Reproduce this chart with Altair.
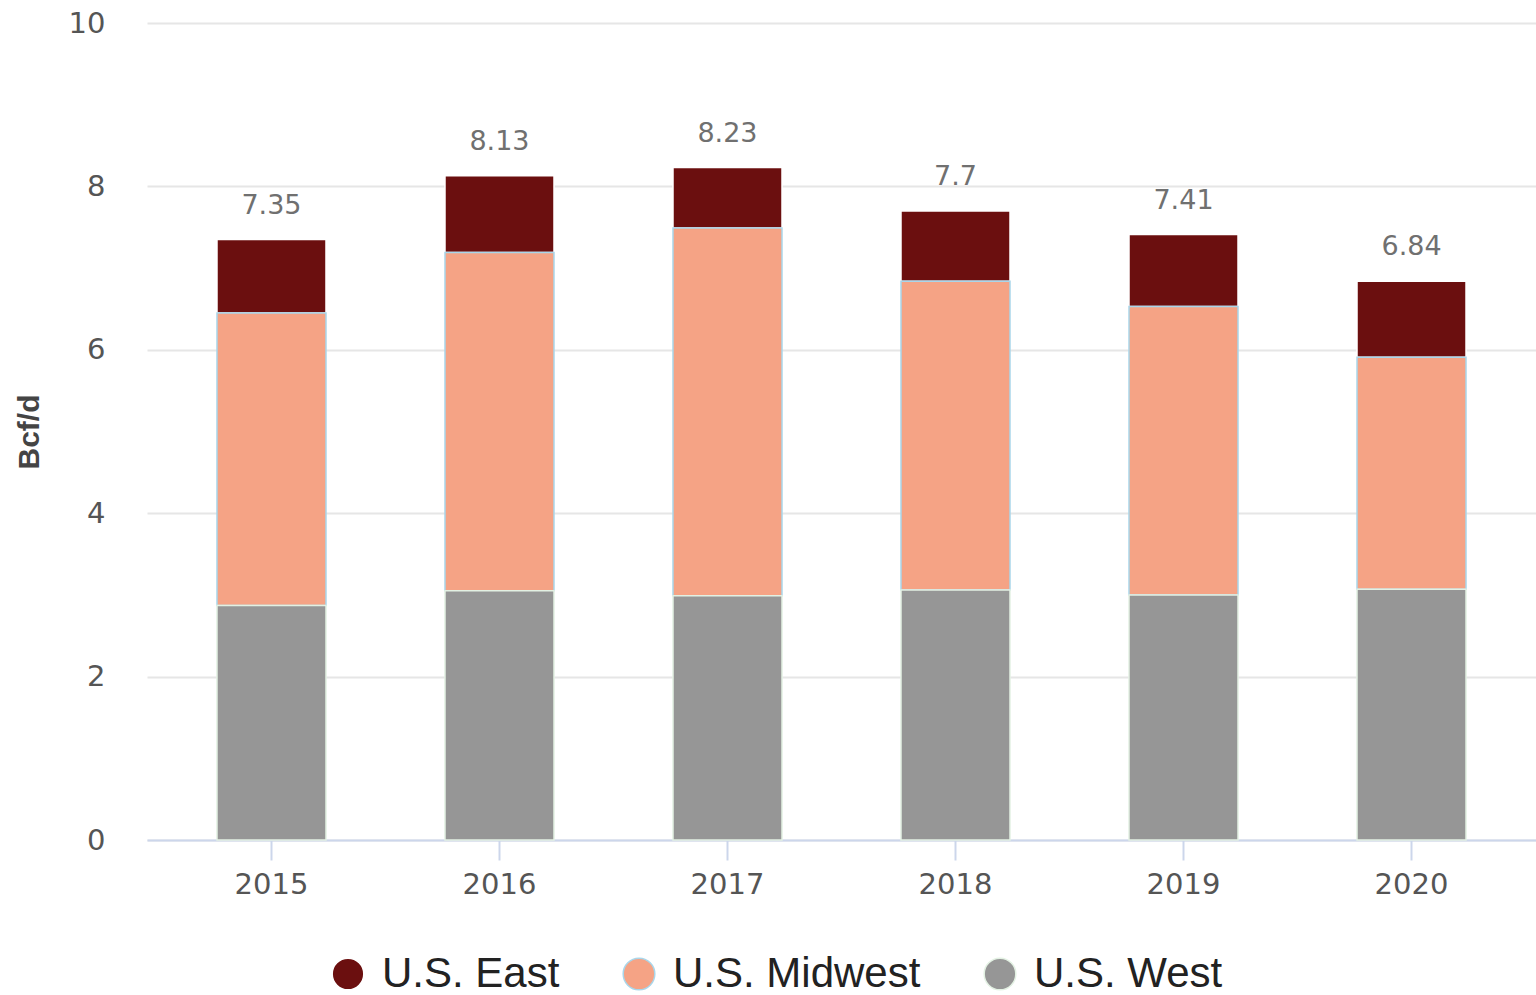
import altair as alt
import pandas as pd

years = ["2015", "2016", "2017", "2018", "2019", "2020"]
series = ["U.S. East", "U.S. Midwest", "U.S. West"]
east = [0.90, 0.94, 0.74, 0.86, 0.88, 0.93]
midwest = [3.58, 4.14, 4.50, 3.78, 3.53, 2.84]
west = [2.87, 3.05, 2.99, 3.06, 3.00, 3.07]
colors = ["#6b0f0f", "#f5a385", "#969696"]
strokes = ["#ffffff", "#a9d6ea", "#e3f1e3"]

rows = []
for i, y in enumerate(years):
    rows.append({"year": y, "region": "U.S. East", "value": east[i], "rank": 2})
    rows.append({"year": y, "region": "U.S. Midwest", "value": midwest[i], "rank": 1})
    rows.append({"year": y, "region": "U.S. West", "value": west[i], "rank": 0})
df = pd.DataFrame(rows)

W, H = 1389, 817

xscale = alt.Scale(paddingInner=0, paddingOuter=0.046)

xenc = alt.X(
    "year:N",
    scale=xscale,
    axis=alt.Axis(
        title=None, labelAngle=0, labelFont="DejaVu Sans", labelFontSize=29,
        labelColor="#555555", labelPadding=10, domainColor="#ccd6eb", domainWidth=2,
        tickColor="#ccd6eb", tickWidth=2, tickSize=20, grid=False,
    ),
)

legend_cfg = dict(
    title=None, orient="none", direction="horizontal", legendX=180, legendY=930,
    symbolType="circle", symbolSize=1000, labelFont="Liberation Sans",
    labelFontSize=42, labelColor="#222222", labelOffset=13, columnPadding=58,
    symbolStrokeWidth=1.5, labelLimit=500,
)

bars = alt.Chart(df).mark_bar(width=109, strokeWidth=1.5).encode(
    x=xenc,
    y=alt.Y(
        "value:Q", stack="zero",
        scale=alt.Scale(domain=[0, 10], nice=False),
        axis=alt.Axis(
            title="Bcf/d", titleFont="Liberation Sans", titleFontSize=30,
            titleFontWeight="bold", titleColor="#444444", titlePadding=24,
            values=[0, 2, 4, 6, 8, 10], format="d", labelFont="DejaVu Sans",
            labelFontSize=29, labelColor="#555555", labelPadding=42, ticks=False,
            domain=False, gridColor="#e6e6e6", gridWidth=2,
        ),
    ),
    color=alt.Color(
        "region:N",
        scale=alt.Scale(domain=series, range=colors),
        legend=alt.Legend(**legend_cfg),
    ),
    stroke=alt.Stroke(
        "region:N",
        scale=alt.Scale(domain=series, range=strokes),
        legend=alt.Legend(**legend_cfg),
    ),
    order=alt.Order("rank:Q", sort="ascending"),
)

labels = alt.Chart(df).transform_aggregate(
    total="sum(value)", groupby=["year"]
).mark_text(
    dy=-34, font="DejaVu Sans", fontSize=27, color="#707070", baseline="middle"
).encode(
    x=alt.X("year:N", scale=xscale),
    y=alt.Y("total:Q"),
    text=alt.Text("total:Q", format=".3~r"),
)

chart = alt.layer(bars, labels).properties(
    width=W, height=H,
    autosize=alt.AutoSizeParams(type="none"),
    padding={"left": 147, "top": 23, "right": 0, "bottom": 155},
    background="white",
).configure_view(stroke=None)

chart.save("out.html", embed_options={"renderer": "svg", "actions": False})
